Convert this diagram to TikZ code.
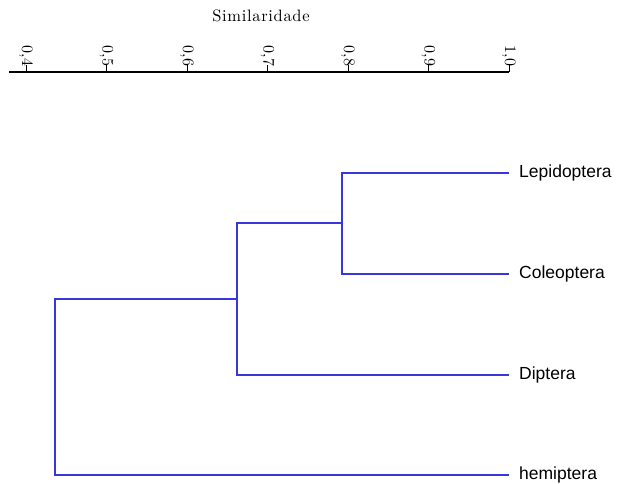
\documentclass[tikz,border=0pt]{standalone}
\usepackage{fontspec}
\newfontfamily\leaffont{Liberation Sans}
\newfontfamily\lmsp{lmroman10-regular.otf}[LetterSpace=4]
\definecolor{dendro}{RGB}{55,55,225}
\begin{document}
\begin{tikzpicture}[x=1pt,y=-1pt,
  axisline/.style={line width=1.2pt,black},
  tickline/.style={line width=1pt,black},
  ticklabel/.style={rotate=-90,anchor=east,inner sep=0pt,font=\lmsp\fontsize{16}{16}\selectfont},
  branch/.style={line width=1.4pt,dendro},
  leaf/.style={anchor=base west,inner sep=0pt,font=\leaffont\fontsize{17.5}{17.5}\selectfont}]
\useasboundingbox (0,0) rectangle (621,484);
% title
\node[anchor=base,inner sep=0pt,font=\lmsp\fontsize{16.5}{16.5}\selectfont] (title) at (261,21.5) {Similaridade};
% axis
\coordinate (a0) at (9,72);
\coordinate (a1) at (509,72);
\draw[axisline] (a0) -- (a1);
\foreach \v/\lab [count=\i] in {0/{0,4},1/{0,5},2/{0,6},3/{0,7},4/{0,8},5/{0,9},6/{1,0}}{
  \coordinate (t\i) at ({26+80.5*\v},72);
  \coordinate (u\i) at ({26+80.5*\v},65.5);
  \draw[tickline] (t\i) -- (u\i);
  \node[ticklabel] (l\i) at ({26+80.5*\v},67) {\lab};
}
% leaf ends
\coordinate (e1) at (509,173);
\coordinate (e2) at (509,274);
\coordinate (e3) at (509,375);
\coordinate (e4) at (509,475);
\node[leaf] (lep) at (519,177.5) {Lepidoptera};
\node[leaf] (col) at (519,278.5) {Coleoptera};
\node[leaf] (dip) at (519,379.5) {Diptera};
\node[leaf] (hem) at (519,479.5) {hemiptera};
% clusters
\coordinate (c1) at (342,223);
\coordinate (c2) at (237,299);
\coordinate (c3) at (55,387);
\draw[branch] (c1) |- (e1);
\draw[branch] (c1) |- (e2);
\draw[branch] (c2) |- (c1);
\draw[branch] (c2) |- (e3);
\draw[branch] (c3) |- (c2);
\draw[branch] (c3) |- (e4);
\end{tikzpicture}
\end{document}
